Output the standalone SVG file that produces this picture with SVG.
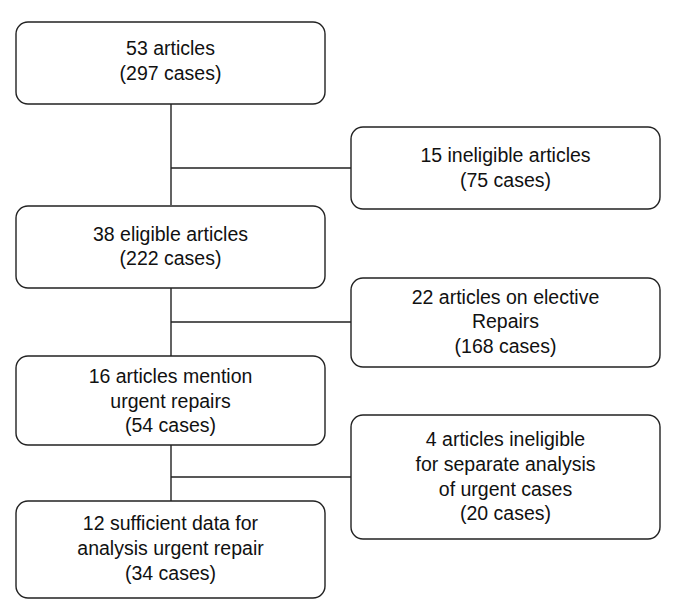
<svg xmlns="http://www.w3.org/2000/svg" width="676" height="602" viewBox="0 0 676 602">
<style>
.box{fill:#fff;stroke:#222;stroke-width:1.4}
.t{font-family:"Liberation Sans",Arial,sans-serif;font-size:19.5px;fill:#111;text-anchor:middle}
.c{stroke:#222;stroke-width:1.4;fill:none}
</style>
<rect width="676" height="602" fill="#fff"/>
<g id="connectors">
<path class="c" d="M171 104V205M171 168H351M171 288V356M171 322H351M171 445V501M171 477H351"/>
</g>
<g id="n1"><rect class="box" x="16" y="22" width="309" height="82" rx="12"/>
<text class="t" x="170.5" y="55">53 articles</text><text class="t" x="170.5" y="80">(297 cases)</text></g>
<g id="n2"><rect class="box" x="351" y="127" width="309" height="82" rx="12"/>
<text class="t" x="505.5" y="162">15 ineligible articles</text><text class="t" x="505.5" y="187">(75 cases)</text></g>
<g id="n3"><rect class="box" x="16" y="206" width="309" height="82" rx="12"/>
<text class="t" x="170.5" y="241">38 eligible articles</text><text class="t" x="170.5" y="265">(222 cases)</text></g>
<g id="n4"><rect class="box" x="351" y="278" width="309" height="89" rx="12"/>
<text class="t" x="505.5" y="304">22 articles on elective</text><text class="t" x="505.5" y="328">Repairs</text><text class="t" x="505.5" y="353">(168 cases)</text></g>
<g id="n5"><rect class="box" x="16" y="356" width="309" height="89" rx="12"/>
<text class="t" x="170.5" y="383">16 articles mention</text><text class="t" x="170.5" y="408">urgent repairs</text><text class="t" x="170.5" y="432">(54 cases)</text></g>
<g id="n6"><rect class="box" x="351" y="415" width="309" height="124" rx="12"/>
<text class="t" x="505.5" y="446">4 articles ineligible</text><text class="t" x="505.5" y="471">for separate analysis</text><text class="t" x="505.5" y="496">of urgent cases</text><text class="t" x="505.5" y="520">(20 cases)</text></g>
<g id="n7"><rect class="box" x="16" y="501" width="309" height="97" rx="12"/>
<text class="t" x="170.5" y="530">12 sufficient data for</text><text class="t" x="170.5" y="555">analysis urgent repair</text><text class="t" x="170.5" y="580">(34 cases)</text></g>
</svg>
